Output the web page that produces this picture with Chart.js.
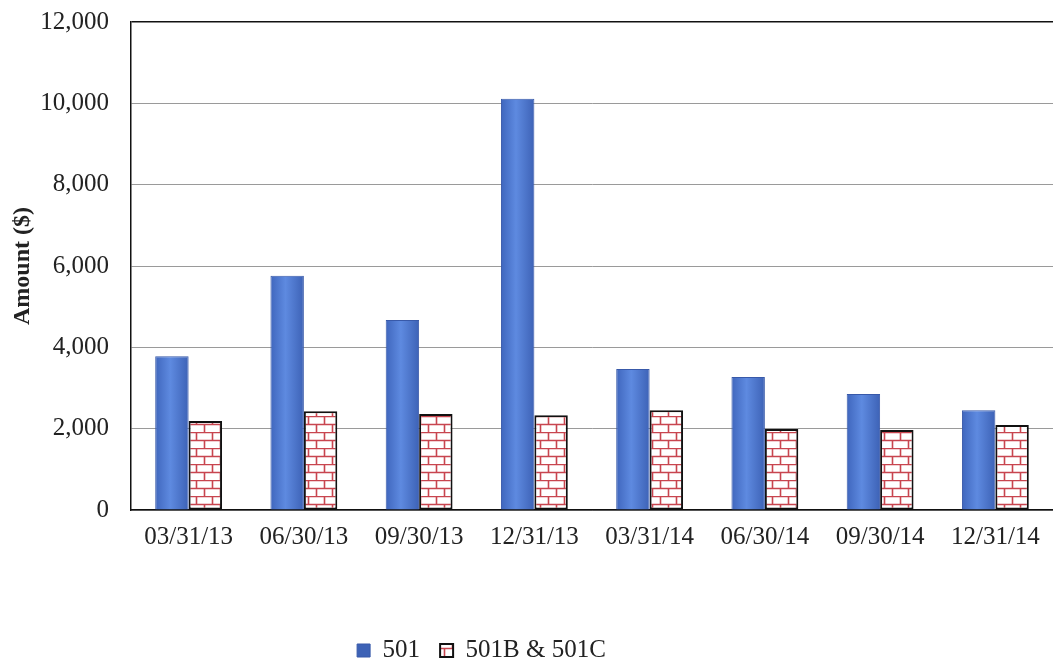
<!DOCTYPE html>
<html>
<head>
<meta charset="utf-8">
<script src="https://cdn.jsdelivr.net/npm/chart.js@4.4.1/dist/chart.umd.min.js"></script>
<style>
  html, body { margin: 0; padding: 0; background: #fff; }
  #wrap { width: 1053px; height: 667px; }
</style>
</head>
<body>
<div id="wrap"><canvas id="chartCanvas"></canvas></div>
<script>
const quarters = ['03/31/13', '06/30/13', '09/30/13', '12/31/13', '03/31/14', '06/30/14', '09/30/14', '12/31/14'];
const amount501 = [3780, 5760, 4670, 10110, 3470, 3270, 2850, 2450];
const amount501BC = [2190, 2430, 2360, 2330, 2450, 1990, 1970, 2090];
const yTicks = [0, 2000, 4000, 6000, 8000, 10000, 12000];

const serif = 'Liberation Serif';
const catPct = 0.58;

// brick fill for the 501B & 501C bars
function brickPattern() {
    const c = document.createElement('canvas');
    c.width = 16;
    c.height = 16;
    const g = c.getContext('2d');
    g.fillStyle = '#fff';
    g.fillRect(0, 0, 16, 16);
    g.strokeStyle = '#c8454f';
    g.lineWidth = 1.6;
    g.beginPath();
    g.moveTo(0, 0.5); g.lineTo(16, 0.5);
    g.moveTo(0, 8.5); g.lineTo(16, 8.5);
    g.moveTo(4.5, 0); g.lineTo(4.5, 8);
    g.moveTo(12.5, 8); g.lineTo(12.5, 16);
    g.stroke();
    return g.createPattern(c, 'repeat');
}

// shaded blue for the 501 bars, lighter in the middle
function blueFill(ctx) {
    const chart = ctx.chart;
    const x = chart.scales && chart.scales.x;
    if (!x || ctx.dataIndex === undefined) return '#4a74cf';
    const cw = x.width / quarters.length;
    const bw = cw * catPct / 2;
    const left = x.getPixelForValue(ctx.dataIndex) - bw;
    if (!isFinite(left) || !isFinite(bw) || bw <= 0) return '#4a74cf';
    const gr = chart.ctx.createLinearGradient(left, 0, left + bw, 0);
    gr.addColorStop(0, '#3f66bd');
    gr.addColorStop(0.45, '#5e8ae0');
    gr.addColorStop(1, '#3d62b6');
    return gr;
}

// legend sits a bit left of centre and low on the page
const legendNudge = {
    id: 'legendNudge',
    afterLayout(chart) {
        const lg = chart.legend;
        const dy = 652 - (lg.top + 20 + 14);
        lg.left -= 45;
        lg.right -= 45;
        lg.top += dy;
        lg.bottom += dy;
    },
};

const bricks = brickPattern();

new Chart(document.getElementById('chartCanvas').getContext('2d'), {
    type: 'bar',
    data: {
        labels: quarters,
        datasets: [
            {
                label: '501',
                data: amount501,
                backgroundColor: blueFill,
                borderColor: '#3859a9',
                borderWidth: 1,
                borderSkipped: 'bottom',
            },
            {
                label: '501B & 501C',
                data: amount501BC,
                backgroundColor: bricks,
                borderColor: '#111',
                borderWidth: 2,
                borderSkipped: false,
            },
        ],
    },
    plugins: [legendNudge],
    options: {
        responsive: true,
        maintainAspectRatio: false,
        animation: false,
        datasets: {
            bar: { categoryPercentage: catPct, barPercentage: 1 },
        },
        layout: { padding: { top: 0, right: 0, bottom: 0, left: 0 } },
        scales: {
            x: {
                grid: { display: false },
                border: { color: '#111', width: 1.5 },
                ticks: {
                    color: '#222',
                    padding: 4,
                    maxRotation: 0,
                    font: { family: serif, size: 25 },
                },
                afterFit: (s) => { s.height = 157 - s.chart.legend.height; },
            },
            y: {
                min: 0,
                max: 12000,
                afterBuildTicks: (s) => { s.ticks = yTicks.map(v => ({ value: v })); },
                grid: {
                    drawTicks: false,
                    color: (c) => (c.tick && c.tick.value === 12000 ? '#111' : '#9a9a9a'),
                    lineWidth: (c) => (c.tick && c.tick.value === 12000 ? 1.5 : 1),
                },
                border: { color: '#111', width: 1.5 },
                ticks: {
                    color: '#222',
                    padding: 22,
                    font: { family: serif, size: 25 },
                    callback: (v) => v.toLocaleString('en-US'),
                },
                title: {
                    display: true,
                    text: 'Amount ($)',
                    color: '#222',
                    font: { family: serif, size: 24, weight: 'bold' },
                    padding: { top: 8, bottom: 0 },
                },
                afterFit: (s) => {
                    s.width = 131;
                    s.paddingTop = 22;
                },
            },
        },
        plugins: {
            legend: {
                position: 'bottom',
                labels: {
                    color: '#222',
                    boxWidth: 13,
                    boxHeight: 13,
                    padding: 20,
                    font: { family: serif, size: 25 },
                },
            },
            tooltip: { enabled: false },
        },
    },
});
</script>
</body>
</html>
